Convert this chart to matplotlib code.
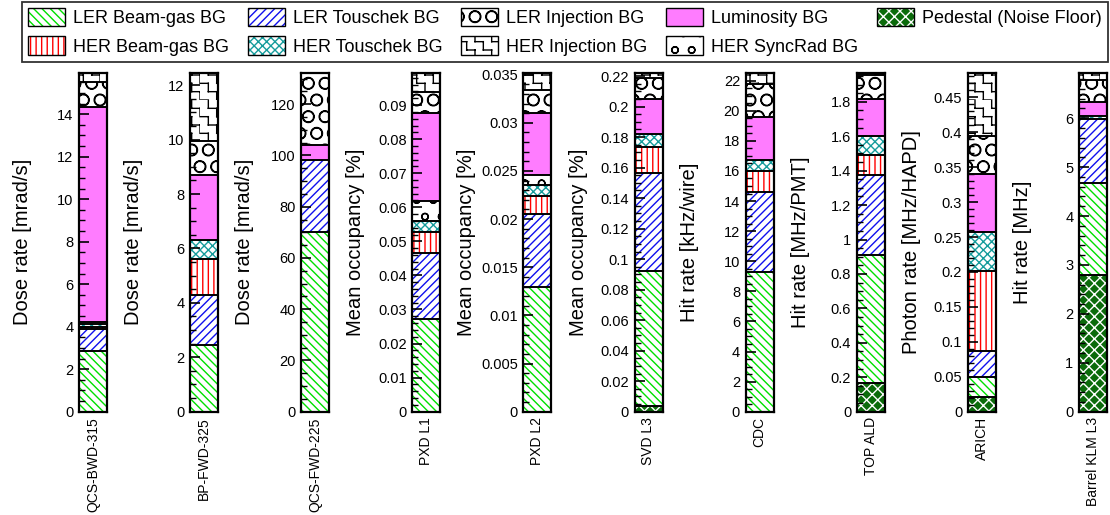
import warnings
warnings.filterwarnings("ignore")
import numpy as np
import matplotlib
matplotlib.use("Agg")
import matplotlib.pyplot as plt
import matplotlib.hatch as mhatch
from matplotlib.path import Path
from matplotlib.patches import Patch
from matplotlib.legend_handler import HandlerTuple
from matplotlib.ticker import MultipleLocator, AutoMinorLocator, FormatStrFormatter


# ---- custom "staircase" hatch (character 'z') ----
class StairHatch(mhatch.HatchPatternBase):
    def __init__(self, hatch, density):
        n = hatch.count('z') * density
        self.n = n - (n % 2)
        if self.n > 0:
            self.num_vertices = (self.n // 2) * self.n * 4
        else:
            self.num_vertices = 0

    def set_vertices_and_codes(self, vertices, codes):
        n = self.n
        s = 1.0 / n
        idx = 0
        for k in range(0, n, 2):
            for j in range(n):
                r = (k - j) % n
                vertices[idx] = (j * s, r * s)
                vertices[idx + 1] = ((j + 1) * s, r * s)
                rt = n if r == 0 else r
                vertices[idx + 2] = ((j + 1) * s, rt * s)
                vertices[idx + 3] = ((j + 1) * s, (rt - 1) * s)
                codes[idx] = Path.MOVETO
                codes[idx + 1] = Path.LINETO
                codes[idx + 2] = Path.MOVETO
                codes[idx + 3] = Path.LINETO
                idx += 4


mhatch._hatch_types.append(StairHatch)

plt.rcParams['font.family'] = ['Liberation Sans', 'DejaVu Sans']
plt.rcParams['hatch.linewidth'] = 1.0

# ---- data ----
detectors = ["QCS-BWD-315", "BP-FWD-325", "QCS-FWD-225", "PXD L1", "PXD L2",
             "SVD L3", "CDC", "TOP ALD", "ARICH", "Barrel KLM L3"]
ylabels = ["Dose rate [mrad/s]", "Dose rate [mrad/s]", "Dose rate [mrad/s]",
           "Mean occupancy [%]", "Mean occupancy [%]", "Mean occupancy [%]",
           "Hit rate [kHz/wire]", "Hit rate [MHz/PMT]", "Photon rate [MHz/HAPD]",
           "Hit rate [MHz]"]
major_steps = [2, 2, 20, 0.01, 0.005, 0.02, 2, 0.2, 0.05, 1]

pedestal    = [0, 0, 0, 0, 0, 0.0039, 0, 0.168, 0.0215, 2.80]
ler_bgas    = [2.86, 2.45, 70.0, 0.0273, 0.0129, 0.0885, 9.30, 0.742, 0.0285, 1.88]
ler_tous    = [1.02, 1.84, 28.3, 0.0194, 0.00765, 0.0638, 5.32, 0.465, 0.0373, 1.30]
her_bgas    = [0.10, 1.31, 0, 0.0059, 0.0018, 0.0175, 1.39, 0.116, 0.1141, 0.0]
her_tous    = [0.14, 0.71, 0, 0.0033, 0.00122, 0.0083, 0.72, 0.110, 0.0562, 0.07]
her_syncrad = [0.08, 0, 0, 0.0058, 0.00103, 0, 0, 0, 0, 0]
luminosity  = [10.15, 2.39, 5.9, 0.0261, 0.0064, 0.023, 2.83, 0.215, 0.0824, 0.29]
ler_inj     = [1.18, 1.25, 28.1, 0.0059, 0.00244, 0.0135, 2.21, 0.139, 0.0546, 0.44]
her_inj     = [0.42, 2.51, 0, 0.0058, 0.00176, 0.0037, 0.76, 0.014, 0.0906, 0.15]

components = [
    # (name, values, facecolor, hatchcolor, hatch)
    ("Pedestal (Noise Floor)", pedestal, "#0b6b0b", "white", "xxx"),
    ("LER Beam-gas BG", ler_bgas, "white", "#00e000", "\\\\\\\\"),
    ("LER Touschek BG", ler_tous, "white", "#1010ee", "////"),
    ("HER Beam-gas BG", her_bgas, "white", "#ff0000", "|||"),
    ("HER Touschek BG", her_tous, "white", "#169c9c", "xxxx"),
    ("HER SyncRad BG", her_syncrad, "white", "black", "o"),
    ("Luminosity BG", luminosity, "#ff7cff", None, None),
    ("LER Injection BG", ler_inj, "white", "black", "O"),
    ("HER Injection BG", her_inj, "white", "black", "zz"),
]

W, H = 1110, 515
fig = plt.figure(figsize=(W / 100, H / 100), dpi=100)

ax_w = 28
ax_bottom = 103.3
ax_h = 339.0

for i, det in enumerate(detectors):
    left = 79 + 111.1 * i
    ax = fig.add_axes([left / W, ax_bottom / H, ax_w / W, ax_h / H])
    bottom = 0.0
    for name, vals, fc, hc, hatch in components:
        v = vals[i]
        if v <= 0:
            continue
        ax.bar(0, v, bottom=bottom, width=1.0, color=fc, linewidth=0, zorder=1)
        if hatch:
            ax.bar(0, v, bottom=bottom, width=1.0, facecolor="none",
                   edgecolor=hc, hatch=hatch, linewidth=0, zorder=1.1)
        ax.bar(0, v, bottom=bottom, width=1.0, facecolor="none",
               edgecolor="black", linewidth=1.2, zorder=1.2)
        bottom += v
    total = sum(c[1][i] for c in components)
    ax.set_xlim(-0.5, 0.5)
    ax.set_ylim(0, total)
    ax.set_xticks([0])
    ax.set_xticklabels([det], rotation=90, fontsize=10, va="top", ha="center")
    ax.tick_params(axis="x", length=0, pad=4)
    ax.yaxis.set_major_locator(MultipleLocator(major_steps[i]))
    ax.yaxis.set_minor_locator(AutoMinorLocator())
    ax.yaxis.set_major_formatter(FormatStrFormatter("%g"))
    ax.tick_params(axis="y", which="major", direction="in", length=7, width=1.2,
                   labelsize=10.5, pad=4, right=False)
    ax.tick_params(axis="y", which="minor", direction="in", length=4, width=1.0,
                   right=False)
    for sp in ax.spines.values():
        sp.set_linewidth(1.6)
        sp.set_zorder(3)
    ax.set_ylabel(ylabels[i], fontsize=14.5)
    ax.yaxis.set_label_coords(-47 / ax_w, 0.5)

# ---- legend ----
order = ["LER Beam-gas BG", "HER Beam-gas BG", "LER Touschek BG", "HER Touschek BG",
         "LER Injection BG", "HER Injection BG", "Luminosity BG", "HER SyncRad BG",
         "Pedestal (Noise Floor)"]
lookup = {c[0]: c for c in components}
handles = []
for nm in order:
    _, _, fc, hc, hatch = lookup[nm]
    base = Patch(facecolor=fc, edgecolor=hc if hc else fc, hatch=hatch, linewidth=0)
    outline = Patch(facecolor="none", edgecolor="black", linewidth=1.0)
    handles.append((base, outline))

leg = fig.legend(handles, order, ncol=5, loc="upper left",
                 bbox_to_anchor=(22 / W, 1 - 1.5 / H, (1108 - 22) / W, 0.0),
                 mode="expand", borderaxespad=0, fontsize=13,
                 handlelength=2.05, handleheight=1.2, handletextpad=0.45,
                 labelspacing=0.5, borderpad=0.35, fancybox=False,
                 frameon=True, edgecolor="black",
                 handler_map={tuple: HandlerTuple(ndivide=1, pad=0)})
leg.get_frame().set_linewidth(1.3)

fig.savefig("out.png", dpi=100)
